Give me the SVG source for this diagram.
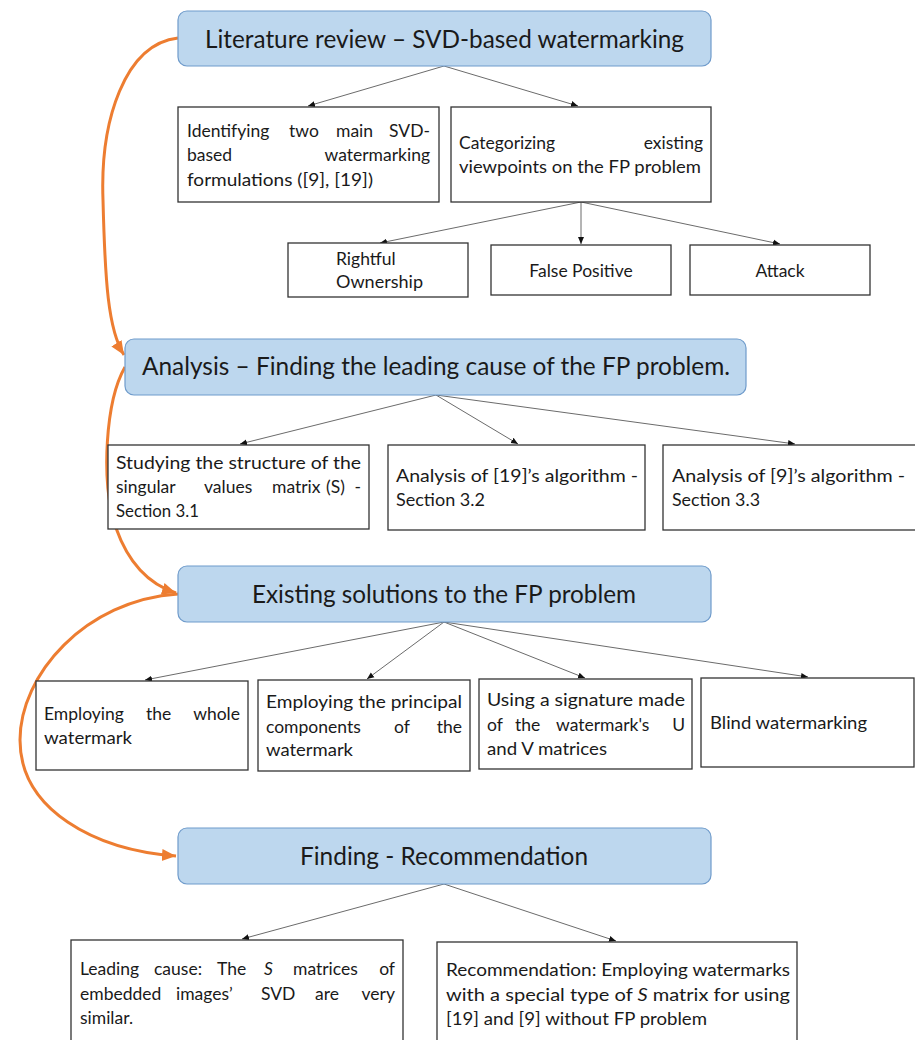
<svg xmlns="http://www.w3.org/2000/svg" width="915" height="1040" viewBox="0 0 915 1040">
<style>
.hdr{fill:#BDD7EE;stroke:#6F9BCB;stroke-width:1.2}
.box{fill:#fff;stroke:#333;stroke-width:1.3}
.ht{font-family:Lato,"Open Sans",sans-serif;font-size:25px;fill:#1a1a1a}
.t{font-family:Lato,"Open Sans",sans-serif;font-size:17.5px;fill:#1a1a1a}
.c{stroke:#6b6b6b;stroke-width:1;fill:none}
.o{stroke:#ED7D31;stroke-width:3;fill:none}
</style>
<defs>
<marker id="ah" markerWidth="8" markerHeight="8" refX="7" refY="4" orient="auto" markerUnits="userSpaceOnUse">
<path d="M0,1 L7,4 L0,7 Z" fill="#111"/>
</marker>
<marker id="oh" markerWidth="16" markerHeight="16" refX="14" refY="8" orient="auto" markerUnits="userSpaceOnUse">
<path d="M0,2 L14,8 L0,14 Z" fill="#ED7D31"/>
</marker>
</defs>

<g id="connectors">
<line class="c" x1="444" y1="66" x2="308" y2="106" marker-end="url(#ah)"/>
<line class="c" x1="444" y1="66" x2="578" y2="106" marker-end="url(#ah)"/>
<line class="c" x1="581" y1="202" x2="380" y2="243" marker-end="url(#ah)"/>
<line class="c" x1="581" y1="202" x2="581" y2="244" marker-end="url(#ah)"/>
<line class="c" x1="581" y1="202" x2="780" y2="244" marker-end="url(#ah)"/>
<line class="c" x1="436" y1="395" x2="240" y2="444" marker-end="url(#ah)"/>
<line class="c" x1="436" y1="395" x2="518" y2="444" marker-end="url(#ah)"/>
<line class="c" x1="436" y1="395" x2="795" y2="444" marker-end="url(#ah)"/>
<line class="c" x1="444" y1="622" x2="145" y2="680" marker-end="url(#ah)"/>
<line class="c" x1="444" y1="622" x2="367" y2="679" marker-end="url(#ah)"/>
<line class="c" x1="444" y1="622" x2="585" y2="678" marker-end="url(#ah)"/>
<line class="c" x1="444" y1="622" x2="808" y2="677" marker-end="url(#ah)"/>
<line class="c" x1="444" y1="884" x2="242" y2="939" marker-end="url(#ah)"/>
<line class="c" x1="444" y1="884" x2="616" y2="941" marker-end="url(#ah)"/>
<path class="o" d="M178,38 C125,44 100,120 103,200 C105,280 108,330 124,355" marker-end="url(#oh)"/>
<path class="o" d="M125,367 C106,400 100,480 116,528 C128,562 148,584 176,593" marker-end="url(#oh)"/>
<path class="o" d="M178,594 C85,600 20,675 20,740 C20,810 95,850 176,856" marker-end="url(#oh)"/>
</g>

<g id="h1">
<rect class="hdr" x="178" y="11" width="533" height="55" rx="9"/>
<text class="ht" x="205" y="48" textLength="479" lengthAdjust="spacingAndGlyphs">Literature review – SVD-based watermarking</text>
</g>
<g id="n-identify">
<rect class="box" x="178" y="107" width="261" height="95"/>
<text class="t" y="137"><tspan x="187">Identifying</tspan><tspan x="289">two</tspan><tspan x="336">main</tspan><tspan x="430" text-anchor="end">SVD-</tspan></text>
<text class="t" y="161"><tspan x="187">based</tspan><tspan x="430" text-anchor="end">watermarking</tspan></text>
<text class="t" x="187" y="186" textLength="186" lengthAdjust="spacingAndGlyphs">formulations  ([9], [19])</text>
</g>
<g id="n-categorize">
<rect class="box" x="451" y="107" width="260" height="95"/>
<text class="t" y="149"><tspan x="459">Categorizing</tspan><tspan x="703" text-anchor="end">existing</tspan></text>
<text class="t" x="459" y="173" textLength="242" lengthAdjust="spacingAndGlyphs">viewpoints on the FP problem</text>
</g>
<g id="n-rightful">
<rect class="box" x="288" y="243" width="180" height="54"/>
<text class="t" x="336" y="265">Rightful</text>
<text class="t" x="336" y="288" textLength="87" lengthAdjust="spacingAndGlyphs">Ownership</text>
</g>
<g id="n-fp">
<rect class="box" x="491" y="245" width="180" height="50"/>
<text class="t" x="581" y="277" text-anchor="middle">False Positive</text>
</g>
<g id="n-attack">
<rect class="box" x="690" y="245" width="180" height="50"/>
<text class="t" x="780" y="277" text-anchor="middle">Attack</text>
</g>

<g id="h2">
<rect class="hdr" x="125" y="339" width="621" height="56" rx="9"/>
<text class="ht" x="142" y="375" textLength="588" lengthAdjust="spacingAndGlyphs">Analysis – Finding the leading cause of the FP problem.</text>
</g>
<g id="n-structure">
<rect class="box" x="108" y="445" width="261" height="84"/>
<text class="t" x="116" y="469" textLength="245" lengthAdjust="spacingAndGlyphs">Studying the structure of the</text>
<text class="t" y="493"><tspan x="116">singular</tspan><tspan x="204">values</tspan><tspan x="272">matrix</tspan><tspan x="326">(S)</tspan><tspan x="361" text-anchor="end">-</tspan></text>
<text class="t" x="116" y="517" textLength="83" lengthAdjust="spacingAndGlyphs">Section 3.1</text>
</g>
<g id="n-a19">
<rect class="box" x="388" y="445" width="257" height="85"/>
<text class="t" x="396" y="482" textLength="242" lengthAdjust="spacingAndGlyphs">Analysis of [19]’s algorithm -</text>
<text class="t" x="396" y="506" textLength="89" lengthAdjust="spacingAndGlyphs">Section 3.2</text>
</g>
<g id="n-a9">
<rect class="box" x="663" y="445" width="260" height="85"/>
<text class="t" x="672" y="482" textLength="233" lengthAdjust="spacingAndGlyphs">Analysis of [9]’s algorithm -</text>
<text class="t" x="672" y="506" textLength="88" lengthAdjust="spacingAndGlyphs">Section 3.3</text>
</g>

<g id="h3">
<rect class="hdr" x="178" y="566" width="533" height="56" rx="9"/>
<text class="ht" x="252" y="603" textLength="384" lengthAdjust="spacingAndGlyphs">Existing solutions to the FP problem</text>
</g>
<g id="n-whole">
<rect class="box" x="36" y="681" width="212" height="89"/>
<text class="t" y="720"><tspan x="44">Employing</tspan><tspan x="146">the</tspan><tspan x="240" text-anchor="end">whole</tspan></text>
<text class="t" x="44" y="744" textLength="88" lengthAdjust="spacingAndGlyphs">watermark</text>
</g>
<g id="n-principal">
<rect class="box" x="258" y="680" width="212" height="91"/>
<text class="t" x="266" y="708" textLength="196" lengthAdjust="spacingAndGlyphs">Employing the principal</text>
<text class="t" y="733"><tspan x="266">components</tspan><tspan x="394">of</tspan><tspan x="462" text-anchor="end">the</tspan></text>
<text class="t" x="266" y="756" textLength="87" lengthAdjust="spacingAndGlyphs">watermark</text>
</g>
<g id="n-signature">
<rect class="box" x="479" y="679" width="213" height="90"/>
<text class="t" x="487" y="706" textLength="198" lengthAdjust="spacingAndGlyphs">Using a signature made</text>
<text class="t" y="731"><tspan x="487">of</tspan><tspan x="515">the</tspan><tspan x="556">watermark's</tspan><tspan x="685" text-anchor="end">U</tspan></text>
<text class="t" x="487" y="755" textLength="120" lengthAdjust="spacingAndGlyphs">and V matrices</text>
</g>
<g id="n-blind">
<rect class="box" x="701" y="678" width="213" height="89"/>
<text class="t" x="710" y="729" textLength="157" lengthAdjust="spacingAndGlyphs">Blind watermarking</text>
</g>

<g id="h4">
<rect class="hdr" x="178" y="828" width="533" height="56" rx="9"/>
<text class="ht" x="300" y="865" textLength="288" lengthAdjust="spacingAndGlyphs">Finding - Recommendation</text>
</g>
<g id="n-cause">
<rect class="box" x="71" y="940" width="332" height="110"/>
<text class="t" y="975"><tspan x="80">Leading</tspan><tspan x="154">cause:</tspan><tspan x="217">The</tspan><tspan x="264" font-style="italic">S</tspan><tspan x="293">matrices</tspan><tspan x="395" text-anchor="end">of</tspan></text>
<text class="t" y="1000"><tspan x="80">embedded</tspan><tspan x="176">images’</tspan><tspan x="261">SVD</tspan><tspan x="315">are</tspan><tspan x="395" text-anchor="end">very</tspan></text>
<text class="t" x="80" y="1024">similar.</text>
</g>
<g id="n-recommend">
<rect class="box" x="437" y="942" width="360" height="110"/>
<text class="t" x="446" y="976" textLength="344" lengthAdjust="spacingAndGlyphs">Recommendation: Employing watermarks</text>
<text class="t" x="446" y="1001" textLength="344" lengthAdjust="spacingAndGlyphs">with a special type of <tspan font-style="italic">S</tspan> matrix for using</text>
<text class="t" x="446" y="1025" textLength="261" lengthAdjust="spacingAndGlyphs">[19] and [9] without FP problem</text>
</g>
</svg>
